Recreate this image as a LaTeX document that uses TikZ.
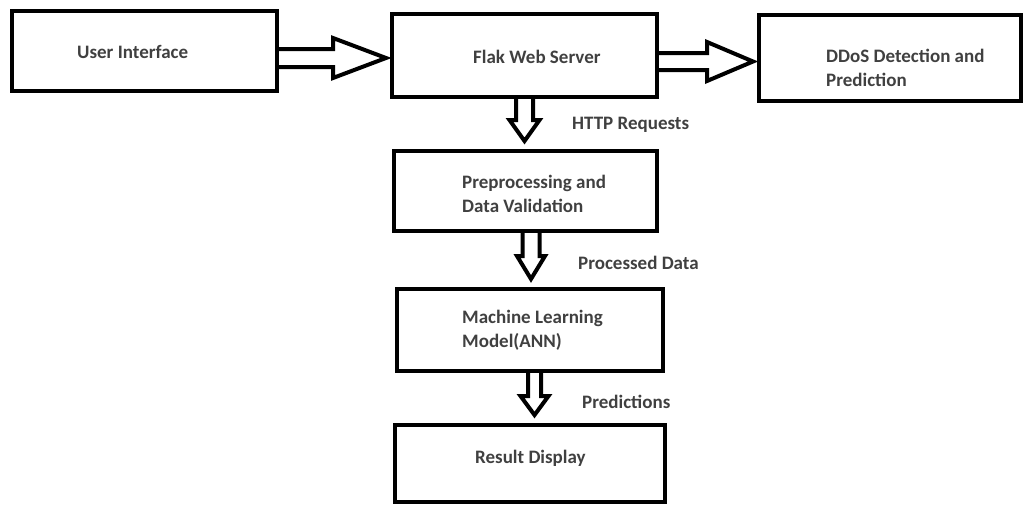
\documentclass[tikz,border=0pt]{standalone}
\usepackage{fontspec}
\setmainfont{Carlito}
\usetikzlibrary{calc}
\definecolor{txt}{RGB}{64,64,64}
\tikzset{
  blockbox/.style={draw=black, line width=4pt, inner sep=0pt},
  lbl/.style={anchor=west, inner sep=0pt, text=txt, align=left,
    font=\fontsize{19}{24}\selectfont\bfseries},
  % hollow block arrow pointing right: shaft half-width, head half-width, head length
  hblk/.style n args={3}{line width=4pt, line join=miter,
    to path={let \p1=(\tikztostart), \p2=(\tikztotarget) in
      (\x1,\y2+#1) -- (\x2-#3,\y2+#1) -- (\x2-#3,\y2+#2) -- (\x2,\y2)
      -- (\x2-#3,\y2-#2) -- (\x2-#3,\y2-#1) -- (\x1,\y2-#1)}},
  % hollow block arrow pointing down
  vblk/.style n args={3}{line width=4pt, line join=miter,
    to path={let \p1=(\tikztostart), \p2=(\tikztotarget) in
      (\x2-#1,\y1) -- (\x2-#1,\y2+#3) -- (\x2-#2,\y2+#3) -- (\x2,\y2)
      -- (\x2+#2,\y2+#3) -- (\x2+#1,\y2+#3) -- (\x2+#1,\y1)}},
}
\begin{document}
\begin{tikzpicture}[x=1pt, y=-1pt]
\useasboundingbox (0,0) rectangle (1025,506);

% boxes
\node[blockbox, minimum width=265pt, minimum height=80pt] (u) at (144.5,51) {};
\node[blockbox, minimum width=265pt, minimum height=83pt] (f) at (524.5,55.5) {};
\node[blockbox, minimum width=262pt, minimum height=86pt] (d) at (890,58) {};
\node[blockbox, minimum width=263pt, minimum height=80pt] (p) at (525.5,191) {};
\node[blockbox, minimum width=266pt, minimum height=82pt] (m) at (530,330) {};
\node[blockbox, minimum width=270pt, minimum height=77pt] (r) at (530,463.5) {};

% box texts
\node[lbl] (ut) at (77,52) {User Interface};
\node[lbl] (ft) at (473,57) {Flak Web Server};
\node[lbl] (dt) at (826,68) {DDoS Detection and\\Prediction};
\node[lbl] (pt) at (462,194) {Preprocessing and\\Data Validation};
\node[lbl] (mt) at (462,330.5) {Machine Learning\\Model(ANN)};
\node[lbl] (rt) at (475,458) {Result Display};

% block arrows
\draw[hblk={9pt}{20pt}{53pt}] (u.east) to ($(f.west)+(-4,2.5)$);
\draw[hblk={8.5pt}{19.5pt}{46pt}] (f.east) to ($(d.west)+(-4,3.5)$);
\draw[vblk={8.5pt}{15pt}{21pt}] (f.south) to ($(p.north)+(-1,-8)$);
\draw[vblk={8.5pt}{14pt}{23pt}] (p.south) to ($(m.north)+(1,-8)$);
\draw[vblk={6.5pt}{14pt}{19pt}] (m.south) to ($(r.north)+(4.5,-8)$);

% arrow labels
\node[lbl] (l1) at (572,125) {HTTP Requests};
\node[lbl] (l2) at (578,263) {Processed Data};
\node[lbl] (l3) at (582,402) {Predictions};
\end{tikzpicture}
\end{document}
